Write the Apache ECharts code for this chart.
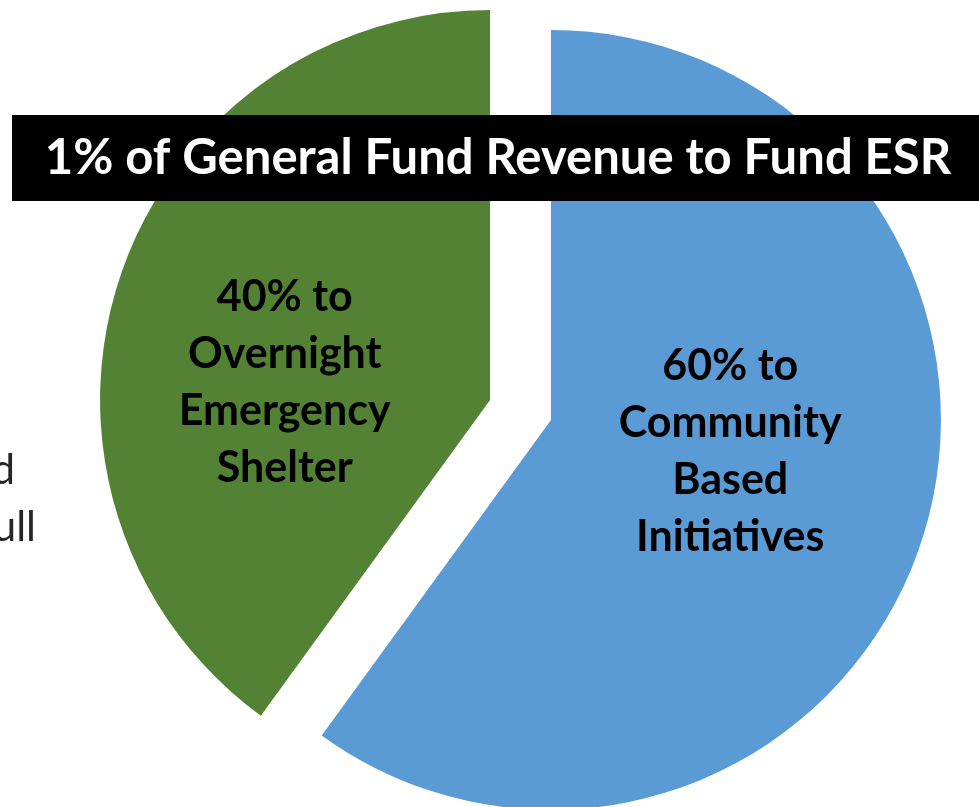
<!DOCTYPE html>
<html>
<head>
<meta charset="utf-8">
<script src="https://cdn.jsdelivr.net/npm/echarts@6/dist/echarts.min.js"></script>
<style>
html,body{margin:0;padding:0;background:#fff;}
#chart{width:979px;height:807px;}
</style>
</head>
<body>
<div id="chart"></div>
<script>
var categories = ['60% to\nCommunity\nBased\nInitiatives', '40% to\nOvernight\nEmergency\nShelter'];
var values = [60, 40];
var colors = ['#5B9BD5', '#548235'];
var titleText = '1% of General Fund Revenue to Fund ESR';
var sideText = ['d', 'ull'];
var labelShift = [[-9, -29], [-17, 44]];

var chart = echarts.init(document.getElementById('chart'));
var data = categories.map(function (c, i) {
  return { name: c, value: values[i], selected: true, itemStyle: { color: colors[i] } };
});
chart.setOption({
  animation: false,
  series: [{
    type: 'pie',
    center: [520.5, 410],
    radius: [0, 390],
    startAngle: 90,
    clockwise: true,
    selectedMode: 'multiple',
    selectedOffset: 32,
    avoidLabelOverlap: false,
    label: {
      show: true,
      position: 'inside',
      formatter: '{b}',
      color: '#000',
      fontFamily: 'Lato',
      fontWeight: 'bold',
      fontSize: 43,
      lineHeight: 57,
      align: 'center'
    },
    labelLine: { show: false },
    emphasis: { disabled: true },
    labelLayout: function (p) {
      return { dx: labelShift[p.dataIndex][0], dy: labelShift[p.dataIndex][1] };
    },
    data: data
  }],
  graphic: [
    { type: 'rect', shape: { x: 12, y: 115, width: 980, height: 86 }, style: { fill: '#000' }, z: 10 },
    { type: 'text', x: 498, y: 158, z: 11, style: { text: titleText, fill: '#fff', font: 'bold 49px Lato', textAlign: 'center', textVerticalAlign: 'middle' } },
    { type: 'text', x: 15, y: 470, z: 11, style: { text: sideText[0], fill: '#262626', font: '42px Lato', textAlign: 'right', textVerticalAlign: 'middle' } },
    { type: 'text', x: 36, y: 527, z: 11, style: { text: sideText[1], fill: '#262626', font: '42px Lato', textAlign: 'right', textVerticalAlign: 'middle' } }
  ]
});
</script>
</body>
</html>
